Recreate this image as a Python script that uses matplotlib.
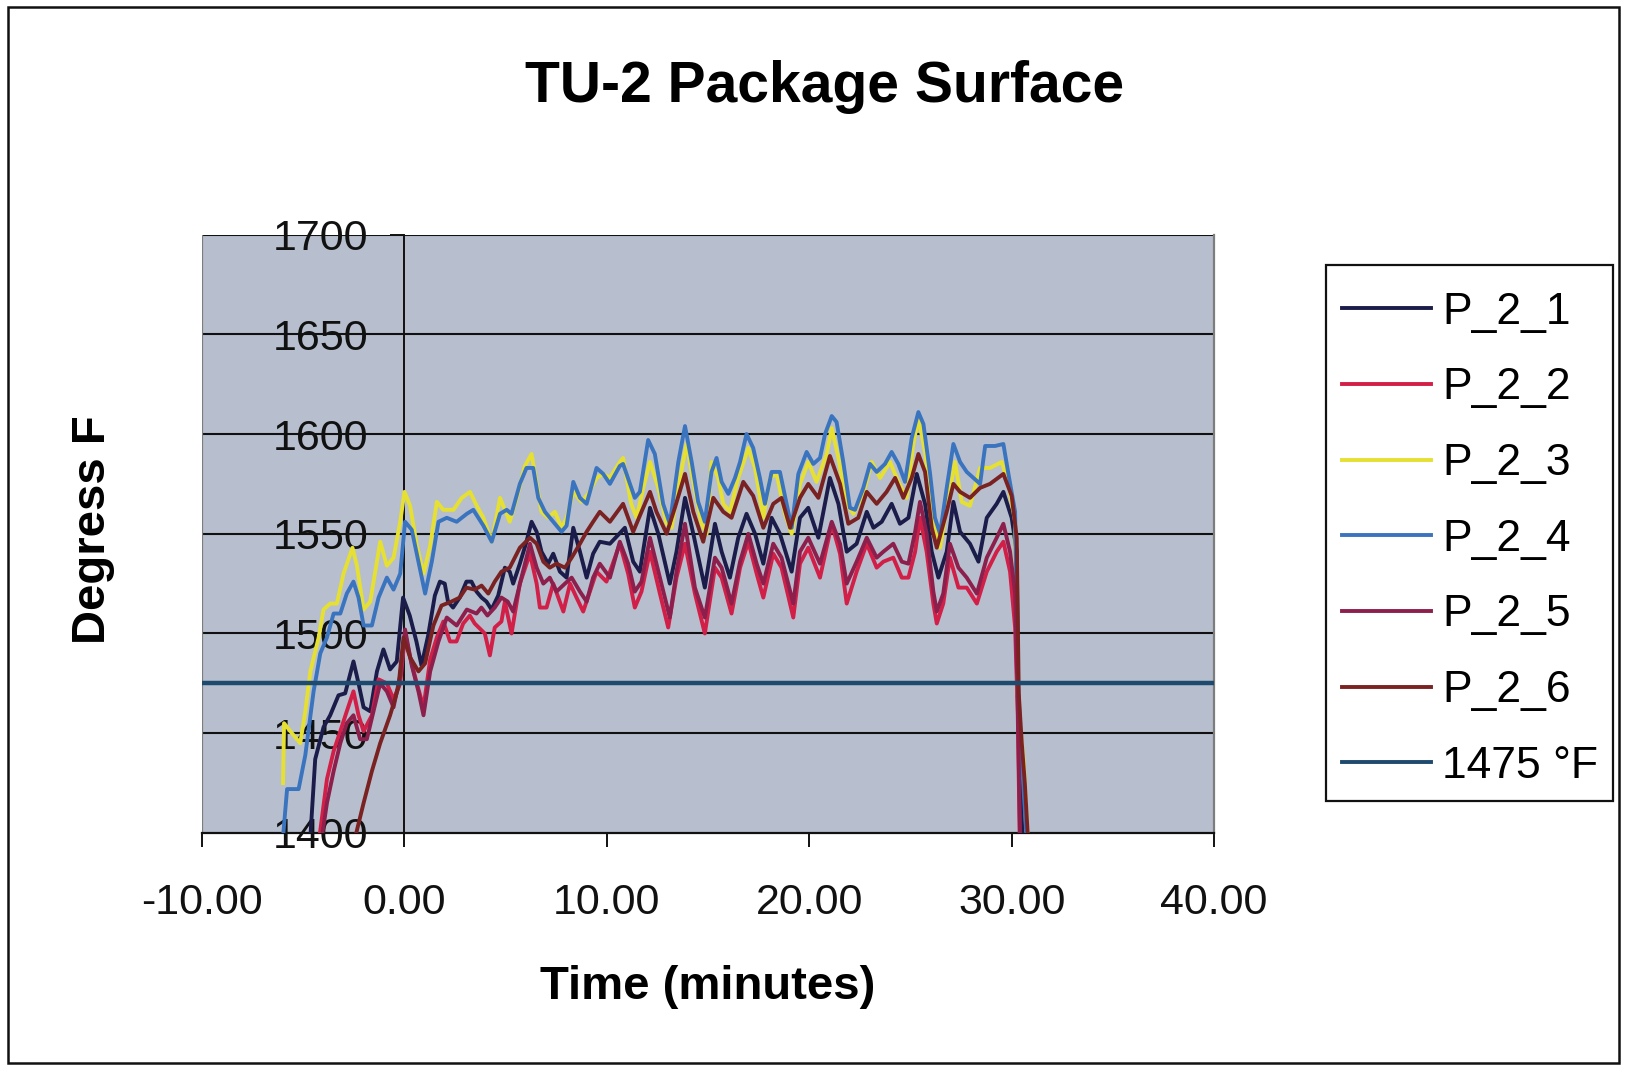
import matplotlib
matplotlib.use("Agg")
import matplotlib.pyplot as plt
from matplotlib.patches import Rectangle

plt.rcParams["font.family"] = ["Liberation Sans", "DejaVu Sans"]

# Thermocouple readings on the TU-2 package surface: (time in minutes, degrees F)
P_2_1 = [(-4.65,1398),(-4.41,1437),(-4.0,1453),(-3.67,1459),(-3.26,1469),(-2.93,1470),(-2.52,1486),(-2.27,1475),
         (-2.02,1463),(-1.69,1461),(-1.36,1481),(-1.04,1492),(-0.71,1482),(-0.38,1486),(-0.07,1518),(0.26,1509),
         (0.59,1496),(0.84,1484),(1.17,1499),(1.5,1519),(1.75,1526),(1.99,1525),(2.15,1516),(2.4,1513),(2.73,1518),
         (3.06,1526),(3.31,1526),(3.56,1521),(3.81,1518),(4.05,1516),(4.3,1512),(4.63,1519),(4.96,1533),(5.2,1531),
         (5.37,1525),(5.7,1535),(6.0,1545),(6.28,1556),(6.53,1551),(6.77,1541),(7.1,1535),(7.35,1540),(7.68,1531),
         (8.01,1528),(8.34,1553),(8.67,1541),(9.0,1528),(9.32,1540),(9.65,1546),(10.15,1545),(10.89,1553),(11.3,1536),
         (11.63,1531),(12.13,1563),(12.54,1550),(13.11,1525),(13.44,1541),(13.86,1568),(14.27,1550),(14.84,1523),
         (15.34,1555),(15.67,1541),(16.08,1528),(16.49,1548),(16.9,1560),(17.32,1550),(17.73,1535),(18.14,1558),
         (18.55,1550),(19.13,1531),(19.54,1558),(19.95,1563),(20.45,1548),(21.02,1578),(21.44,1565),(21.85,1541),
         (22.34,1545),(22.84,1561),(23.17,1553),(23.58,1556),(24.07,1565),(24.48,1555),(24.9,1558),(25.31,1580),
         (25.72,1565),(26.05,1541),(26.38,1528),(26.79,1541),(27.12,1566),(27.45,1551),(27.94,1545),(28.36,1536),
         (28.77,1558),(29.26,1565),(29.59,1571),(30.0,1558),(30.25,1541),(30.32,1470),(30.45,1420),(30.55,1395)]

P_2_2 = [(-4.2,1398),(-3.83,1427),(-3.5,1441),(-3.17,1451),(-2.85,1461),(-2.52,1471),(-2.27,1459),(-2.02,1451),
         (-1.61,1459),(-1.28,1477),(-0.87,1475),(-0.54,1467),(-0.21,1475),(0.03,1500),(0.28,1488),(0.61,1475),
         (0.94,1463),(1.27,1487),(1.6,1498),(1.92,1506),(2.25,1496),(2.57,1496),(2.9,1505),(3.23,1509),(3.47,1505),
         (3.97,1500),(4.22,1489),(4.46,1503),(4.79,1506),(4.96,1516),(5.29,1500),(5.7,1525),(6.2,1540),(6.53,1525),
         (6.69,1513),(7.02,1513),(7.35,1525),(7.6,1518),(7.85,1511),(8.18,1525),(8.5,1518),(8.83,1511),(9.16,1521),
         (9.49,1531),(9.98,1526),(10.64,1545),(11.05,1530),(11.38,1513),(11.71,1521),(12.13,1541),(12.62,1520),
         (13.03,1503),(13.44,1528),(13.86,1545),(14.35,1520),(14.84,1500),(15.34,1533),(15.67,1528),(16.16,1510),
         (16.58,1533),(16.99,1546),(17.4,1530),(17.73,1518),(18.22,1540),(18.63,1533),(19.21,1508),(19.54,1535),
         (19.95,1543),(20.53,1528),(21.11,1555),(21.52,1540),(21.85,1515),(22.34,1531),(22.84,1545),(23.33,1533),
         (23.66,1536),(24.15,1538),(24.57,1528),(24.9,1528),(25.23,1541),(25.47,1558),(25.8,1541),(26.13,1515),
         (26.3,1505),(26.62,1515),(26.95,1538),(27.37,1523),(27.78,1523),(28.28,1515),(28.77,1531),(29.26,1541),
         (29.59,1546),(29.92,1531),(30.17,1503),(30.3,1460),(30.4,1395)]

P_2_3 = [(-6.0,1425),(-5.95,1455),(-5.64,1451),(-5.15,1445),(-4.9,1461),(-4.65,1481),(-4.24,1498),(-4.0,1512),
         (-3.67,1515),(-3.34,1515),(-3.01,1530),(-2.57,1543),(-2.35,1534),(-2.02,1512),(-1.69,1516),(-1.2,1546),
         (-0.87,1534),(-0.54,1538),(-0.21,1556),(0.0,1571),(0.28,1564),(0.61,1544),(0.94,1530),(1.27,1544),(1.6,1566),
         (1.92,1562),(2.42,1562),(2.83,1568),(3.24,1571),(3.57,1564),(3.9,1558),(4.31,1546),(4.72,1568),(5.2,1556),
         (5.6,1570),(5.95,1584),(6.28,1590),(6.53,1575),(6.77,1561),(7.1,1558),(7.43,1561),(7.76,1553),(8.01,1558),
         (8.34,1571),(8.75,1566),(9.08,1570),(9.49,1578),(9.82,1580),(10.15,1578),(10.64,1586),(10.8,1588),
         (11.2,1565),(11.47,1558),(11.8,1573),(12.13,1586),(12.54,1573),(12.95,1555),(13.2,1553),(13.61,1578),
         (13.94,1595),(14.27,1576),(14.68,1555),(14.93,1550),(15.17,1586),(15.5,1578),(15.75,1565),(16.08,1561),
         (16.49,1578),(16.99,1593),(17.32,1583),(17.73,1558),(18.06,1578),(18.39,1580),(18.8,1560),(19.13,1550),
         (19.54,1575),(19.95,1586),(20.36,1576),(20.86,1590),(21.11,1603),(21.44,1588),(21.85,1565),(22.18,1560),
         (22.67,1570),(23.08,1586),(23.5,1578),(23.99,1586),(24.4,1576),(24.81,1568),(25.14,1595),(25.39,1608),
         (25.72,1591),(26.13,1558),(26.46,1543),(26.79,1563),(27.2,1586),(27.53,1566),(27.94,1564),(28.44,1583),
         (28.93,1583),(29.51,1586),(29.84,1575),(30.17,1556),(30.3,1470),(30.45,1450),(30.6,1435),(30.8,1395)]

P_2_4 = [(-6.0,1398),(-5.8,1422),(-5.23,1422),(-4.9,1439),(-4.49,1471),(-4.16,1490),(-3.83,1498),(-3.5,1510),
         (-3.17,1510),(-2.85,1520),(-2.52,1526),(-2.27,1518),(-2.02,1504),(-1.61,1504),(-1.28,1518),(-0.87,1528),
         (-0.54,1522),(-0.21,1530),(0.03,1556),(0.36,1552),(0.69,1536),(1.02,1520),(1.35,1536),(1.68,1556),(2.09,1558),
         (2.58,1556),(3.08,1560),(3.4,1562),(3.9,1554),(4.31,1546),(4.72,1560),(5.05,1562),(5.29,1560),(5.7,1575),
         (6.03,1583),(6.36,1583),(6.61,1568),(6.94,1561),(7.35,1556),(7.76,1551),(8.01,1554),(8.34,1576),(8.67,1568),
         (9.0,1565),(9.49,1583),(9.82,1580),(10.15,1575),(10.64,1584),(10.8,1585),(11.14,1575),(11.38,1568),
         (11.63,1571),(12.04,1597),(12.37,1590),(12.78,1565),(13.11,1555),(13.53,1586),(13.86,1604),(14.19,1586),
         (14.51,1566),(14.84,1556),(15.17,1581),(15.42,1588),(15.67,1576),(16.0,1570),(16.33,1578),(16.58,1586),
         (16.9,1600),(17.23,1593),(17.56,1578),(17.81,1565),(18.14,1581),(18.55,1581),(18.88,1565),(19.13,1553),
         (19.46,1580),(19.87,1591),(20.2,1585),(20.53,1588),(20.78,1600),(21.11,1609),(21.35,1606),(21.68,1586),
         (22.01,1563),(22.26,1562),(22.67,1573),(23.0,1585),(23.33,1581),(23.74,1585),(24.07,1591),(24.4,1585),
         (24.73,1576),(25.06,1598),(25.39,1611),(25.64,1605),(25.97,1580),(26.21,1558),(26.46,1550),(26.79,1573),
         (27.12,1595),(27.45,1586),(27.78,1581),(28.11,1578),(28.44,1575),(28.69,1594),(29.18,1594),(29.59,1595),
         (29.84,1580),(30.17,1561),(30.3,1478),(30.45,1445),(30.6,1420),(30.75,1395)]

P_2_5 = [(-4.08,1398),(-3.83,1415),(-3.5,1431),(-3.17,1445),(-2.85,1455),(-2.52,1459),(-2.19,1447),(-1.86,1447),
         (-1.53,1461),(-1.2,1475),(-0.87,1471),(-0.54,1463),(-0.21,1479),(0.03,1502),(0.36,1484),(0.69,1471),
         (0.94,1459),(1.27,1481),(1.68,1496),(2.09,1508),(2.58,1504),(3.08,1512),(3.56,1510),(3.8,1513),(4.1,1509),
         (4.46,1513),(4.79,1518),(5.1,1516),(5.37,1511),(5.78,1528),(6.2,1545),(6.53,1533),(6.86,1525),(7.18,1528),
         (7.51,1521),(7.93,1525),(8.26,1528),(8.67,1521),(9.0,1516),(9.32,1528),(9.65,1535),(10.15,1528),(10.64,1546),
         (11.05,1535),(11.38,1521),(11.71,1526),(12.13,1548),(12.62,1528),(13.11,1508),(13.44,1531),(13.86,1555),
         (14.35,1523),(14.84,1508),(15.34,1538),(15.67,1533),(16.16,1515),(16.58,1536),(16.99,1550),(17.4,1535),
         (17.73,1525),(18.22,1545),(18.63,1538),(19.21,1515),(19.54,1541),(19.95,1548),(20.53,1535),(21.11,1556),
         (21.52,1545),(21.85,1525),(22.34,1536),(22.84,1548),(23.33,1538),(23.66,1541),(24.15,1545),(24.57,1536),
         (24.9,1535),(25.23,1551),(25.47,1566),(25.8,1550),(26.13,1521),(26.3,1511),(26.62,1520),(26.95,1545),
         (27.37,1533),(27.78,1528),(28.28,1520),(28.77,1538),(29.26,1548),(29.59,1555),(29.92,1541),(30.17,1520),
         (30.3,1465),(30.42,1395)]

P_2_6 = [(-2.43,1398),(-2.02,1415),(-1.61,1431),(-1.2,1445),(-0.71,1459),(-0.3,1473),(-0.05,1498),(0.28,1488),
         (0.69,1481),(1.02,1485),(1.43,1504),(1.83,1514),(2.32,1516),(2.73,1518),(3.06,1523),(3.47,1522),(3.81,1524),
         (4.14,1520),(4.46,1526),(4.79,1531),(5.2,1533),(5.7,1543),(6.2,1548),(6.53,1545),(6.86,1536),(7.18,1533),
         (7.51,1535),(7.93,1533),(8.26,1538),(8.67,1545),(9.0,1551),(9.32,1556),(9.65,1561),(10.15,1556),(10.8,1565),
         (11.3,1551),(11.71,1561),(12.13,1571),(12.45,1561),(12.95,1550),(13.36,1563),(13.86,1580),(14.27,1561),
         (14.76,1546),(15.26,1568),(15.75,1561),(16.16,1558),(16.74,1576),(17.23,1569),(17.73,1553),(18.22,1565),
         (18.63,1568),(19.05,1553),(19.54,1568),(19.95,1575),(20.45,1568),(21.02,1589),(21.52,1575),(21.93,1555),
         (22.42,1558),(22.84,1571),(23.33,1565),(23.82,1571),(24.24,1578),(24.65,1568),(25.06,1578),(25.39,1590),
         (25.72,1581),(26.05,1553),(26.3,1543),(26.79,1561),(27.12,1575),(27.45,1571),(27.94,1568),(28.44,1573),
         (28.93,1575),(29.59,1580),(30.0,1569),(30.25,1548),(30.35,1470),(30.5,1445),(30.65,1425),(30.8,1398)]

LIMIT_F = 1475
LIMIT_SPAN = [-10, 40]

series = [("P_2_1", P_2_1, "#1b1c4a"),
          ("P_2_2", P_2_2, "#d21f48"),
          ("P_2_3", P_2_3, "#e6e032"),
          ("P_2_4", P_2_4, "#3a74bf"),
          ("P_2_5", P_2_5, "#8c1f4c"),
          ("P_2_6", P_2_6, "#7a2222")]

x_ticks = [-10, 0, 10, 20, 30, 40]
y_ticks = [1400, 1450, 1500, 1550, 1600, 1650, 1700]

fig = plt.figure(figsize=(16.27, 10.69), dpi=100)
fig.patch.set_facecolor("white")
ax = fig.add_axes([0.1242, 0.2208, 0.6220, 0.5598])
ax.set_facecolor("#b7bfce")

for name, pts, col in series:
    t = [p[0] for p in pts]
    v = [p[1] for p in pts]
    ax.plot(t, v, color=col, lw=2.8, label=name, solid_joinstyle="round", zorder=3)
ax.plot(LIMIT_SPAN, [LIMIT_F, LIMIT_F], color="#1e4a6e", lw=3.2, label="1475 \u00b0F", zorder=4)

ax.set_xlim(-10, 40)
ax.set_ylim(1400, 1700)
ax.set_xticks(x_ticks)
ax.set_xticklabels([f"{x:.2f}" for x in x_ticks])
ax.set_yticks(y_ticks)
ax.set_yticklabels([str(y) for y in y_ticks])

for y in y_ticks[1:]:
    ax.axhline(y, color="#111111", lw=1.5, zorder=1)
ax.axvline(-10, color="#7d7d7d", lw=1.6, zorder=1)

ax.spines["left"].set_position(("data", 0))
ax.spines["left"].set_color("#111111")
ax.spines["left"].set_linewidth(1.4)
ax.spines["left"].set_zorder(2)
ax.spines["bottom"].set_color("#111111")
ax.spines["bottom"].set_linewidth(1.6)
ax.spines["top"].set_visible(False)
ax.spines["right"].set_color("#7d7d7d")
ax.spines["right"].set_linewidth(1.6)

ax.tick_params(axis="y", direction="out", length=10, width=1.4, pad=16, labelsize=31, colors="#111111")
ax.tick_params(axis="x", direction="out", length=10, width=1.4, pad=26, labelsize=31, colors="#111111")

ax.set_xlabel("Time (minutes)", fontsize=34, fontweight="bold", labelpad=30)
fig.text(0.057, 0.505, "Degress F", rotation=90, fontsize=34, fontweight="bold",
         ha="center", va="center")
fig.text(0.507, 0.919, "TU-2 Package Surface", fontsize=41, fontweight="bold",
         ha="center", va="center")

# Legend entries without their own frame; the box is drawn separately
leg = fig.legend(loc="upper left", bbox_to_anchor=(0.8086, 0.752), fontsize=32,
                 handlelength=2.0, handletextpad=0.25, labelspacing=0.78,
                 borderpad=0.6, borderaxespad=0, frameon=False)
for line in leg.get_lines():
    line.set_linewidth(2.8)
fig.patches.append(Rectangle((0.815, 0.2505), 0.9917 - 0.815, 0.7524 - 0.2505,
                             transform=fig.transFigure, fill=True, facecolor="white",
                             edgecolor="#111111", lw=1.6, zorder=0))

fig.patches.append(Rectangle((0.005, 0.006), 0.990, 0.987, transform=fig.transFigure,
                             fill=False, edgecolor="#111111", lw=1.8))

fig.savefig("out.png", dpi=100, facecolor="white")
